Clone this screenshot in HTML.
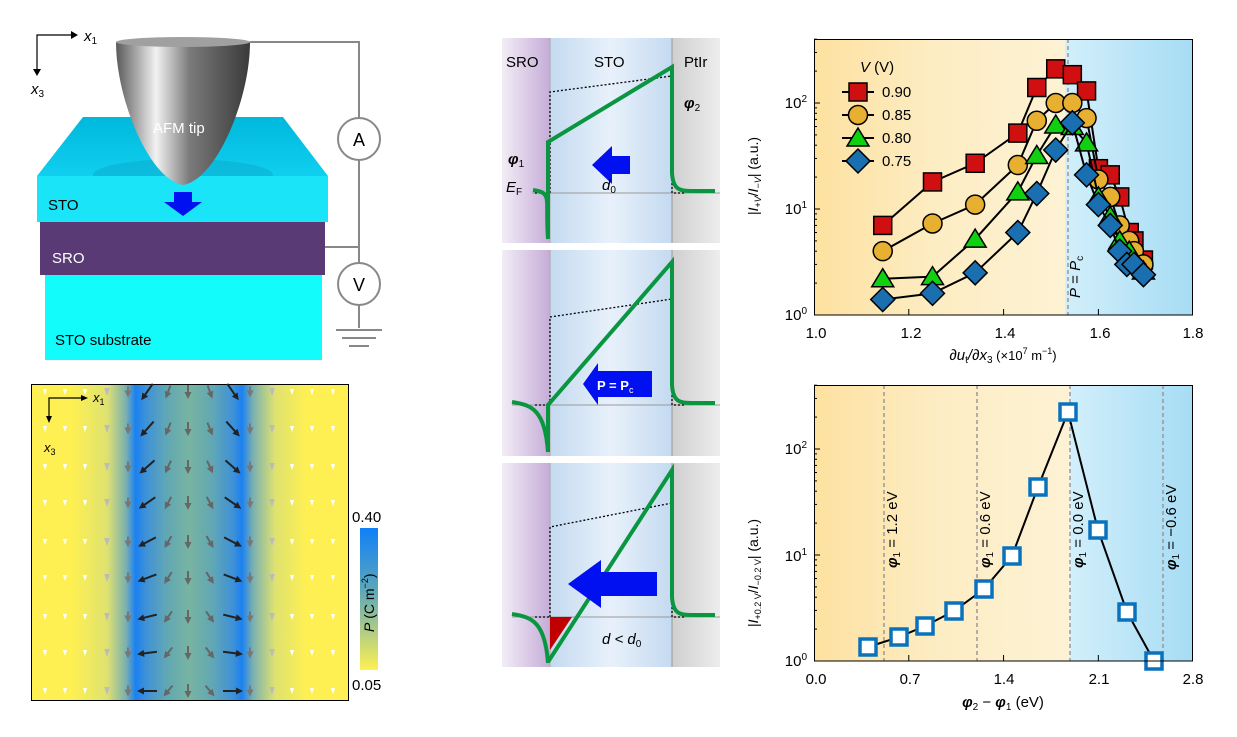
<!DOCTYPE html>
<html><head><meta charset="utf-8"><style>
body{margin:0;background:#fff;width:1237px;height:737px;overflow:hidden}
svg{display:block;font-family:"Liberation Sans",Arial,sans-serif}
</style></head><body>
<svg id="s" width="1237" height="737" viewBox="0 0 1237 737" xmlns="http://www.w3.org/2000/svg">
<defs>
<linearGradient id="tip" x1="0" x2="1"><stop offset="0" stop-color="#5a5a5a"/><stop offset="0.3" stop-color="#f2f2f2"/><stop offset="0.55" stop-color="#7a7a7a"/><stop offset="1" stop-color="#3a3a3a"/></linearGradient>
<linearGradient id="topf" x1="0" y1="0" x2="0" y2="1"><stop offset="0" stop-color="#00b8dc"/><stop offset="1" stop-color="#10cfef"/></linearGradient>
<linearGradient id="hm" x1="31" x2="348" gradientUnits="userSpaceOnUse">
<stop offset="0.13" stop-color="#fef052"/><stop offset="0.24" stop-color="#dfe270"/><stop offset="0.3" stop-color="#7ab0b0"/><stop offset="0.33" stop-color="#1a80f2"/><stop offset="0.36" stop-color="#3d90d8"/><stop offset="0.43" stop-color="#62a8b4"/><stop offset="0.5" stop-color="#78b4a0"/><stop offset="0.57" stop-color="#62a8b4"/><stop offset="0.64" stop-color="#3d90d8"/><stop offset="0.665" stop-color="#1a80f2"/><stop offset="0.70" stop-color="#7ab0b0"/><stop offset="0.77" stop-color="#dfe270"/><stop offset="0.87" stop-color="#fef052"/></linearGradient>
<linearGradient id="cb" x1="0" y1="0" x2="0" y2="1"><stop offset="0" stop-color="#1080f8"/><stop offset="0.45" stop-color="#60a8b8"/><stop offset="1" stop-color="#fef052"/></linearGradient>
<linearGradient id="sro" x1="0" x2="1"><stop offset="0" stop-color="#f2edf6"/><stop offset="1" stop-color="#c6acd8"/></linearGradient>
<linearGradient id="sto" x1="0" x2="1"><stop offset="0" stop-color="#c4daf0"/><stop offset="0.5" stop-color="#e8f1fb"/><stop offset="1" stop-color="#c4daf0"/></linearGradient>
<linearGradient id="pt" x1="0" x2="1"><stop offset="0" stop-color="#cfcfcf"/><stop offset="1" stop-color="#ededed"/></linearGradient>
<linearGradient id="org" x1="0" x2="1"><stop offset="0" stop-color="#fde1a0"/><stop offset="0.5" stop-color="#fdedc4"/><stop offset="1" stop-color="#fdf2d4"/></linearGradient>
<linearGradient id="blu" x1="0" x2="1"><stop offset="0" stop-color="#d2effb"/><stop offset="1" stop-color="#a6dcf4"/></linearGradient>
</defs>

<!-- 3D block -->
<polygon points="83,117 283,117 328,176 37,176" fill="url(#topf)"/>
<ellipse cx="183" cy="175" rx="90" ry="16" fill="#0aa8cc" opacity="0.5"/>
<rect x="37" y="176" width="291" height="46" fill="#1ae4f8"/>
<rect x="40" y="222" width="285" height="53" fill="#5a3a74"/>
<rect x="45" y="275" width="277" height="85" fill="#12fcfc"/>
<path d="M116,42 C116,100 150,180 183,185 C216,180 250,100 250,42 Z" fill="url(#tip)"/>
<ellipse cx="183" cy="42" rx="67" ry="5" fill="#a0a0a0"/>
<text x="153" y="133" fill="#fff" font-size="15">AFM tip</text>
<polygon points="174,192 192,192 192,202 202,202 183,216 164,202 174,202" fill="#0010f0"/>
<text x="48" y="210" font-size="15">STO</text>
<text x="52" y="263" font-size="15" fill="#fff">SRO</text>
<text x="55" y="345" font-size="15">STO substrate</text>
<g stroke="#888" stroke-width="2" fill="none">
<path d="M250,42 H359 V118 M359,160 V263 M325,247 H359 M359,305 V328"/>
<circle cx="359" cy="139" r="21" fill="#fff"/><circle cx="359" cy="284" r="21" fill="#fff"/>
<path d="M336,330 H382 M342,338 H376 M349,346 H369"/>
</g>
<text x="359" y="146" text-anchor="middle" font-size="18">A</text>
<text x="359" y="291" text-anchor="middle" font-size="18">V</text>
<g stroke="#000" stroke-width="1.2" fill="none"><path d="M37,72 V35 H75"/></g>
<polygon points="78,35 71,31 71,39" fill="#000"/><polygon points="37,76 33,69 41,69" fill="#000"/>
<text x="84" y="41" font-size="15" font-style="italic">x<tspan font-size="10" font-style="normal" dy="3">1</tspan></text>
<text x="31" y="94" font-size="15" font-style="italic">x<tspan font-size="10" font-style="normal" dy="3">3</tspan></text>

<!-- heatmap -->
<rect x="31.5" y="384.5" width="317" height="316" fill="url(#hm)" stroke="#000" stroke-width="1"/>
<g id="arr"></g>
<g stroke="#000" stroke-width="1.2" fill="none"><path d="M49,420 V398 H85"/></g>
<polygon points="88,398 81,395 81,401" fill="#000"/><polygon points="49,423 46,416 52,416" fill="#000"/>
<text x="93" y="402" font-size="13" font-style="italic">x<tspan font-size="9" font-style="normal" dy="3">1</tspan></text>
<text x="44" y="452" font-size="13" font-style="italic">x<tspan font-size="9" font-style="normal" dy="3">3</tspan></text>
<rect x="360" y="528" width="18" height="142" fill="url(#cb)"/>
<text x="352" y="522" font-size="15">0.40</text>
<text x="352" y="690" font-size="15">0.05</text>
<text transform="translate(374,632) rotate(-90)" font-size="14"><tspan font-style="italic">P</tspan> (C m<tspan font-size="9" dy="-6">−2</tspan><tspan dy="6">)</tspan></text>

<!-- band diagrams -->
<g id="bands"></g>
<g font-size="15">
<text x="506" y="67">SRO</text><text x="594" y="67">STO</text><text x="684" y="67">PtIr</text>
<text x="508" y="164" font-style="italic" font-weight="bold">φ<tspan font-size="10" font-weight="normal" font-style="normal" dy="3">1</tspan></text>
<text x="684" y="108" font-style="italic" font-weight="bold">φ<tspan font-size="10" font-weight="normal" font-style="normal" dy="3">2</tspan></text>
<text x="506" y="192" font-style="italic">E<tspan font-size="10" font-style="normal" dy="3">F</tspan></text>
<text x="602" y="190" font-style="italic">d<tspan font-size="10" font-style="normal" dy="3">0</tspan></text>
<text x="602" y="644" font-style="italic">d &lt; d<tspan font-size="10" font-style="normal" dy="3">0</tspan></text>
</g>
<text x="597" y="390" font-size="13" font-weight="bold" fill="#fff">P = P<tspan font-size="9" font-weight="normal" dy="3">c</tspan></text>

<!-- plots -->
<rect x="814" y="39" width="251" height="276" fill="url(#org)"/>
<rect x="1065" y="39" width="128" height="276" fill="url(#blu)"/>
<rect x="814" y="385" width="256" height="276" fill="url(#org)"/>
<rect x="1070" y="385" width="123" height="276" fill="url(#blu)"/>
<g stroke="#999" stroke-width="1.5" stroke-dasharray="4,3">
<path d="M1068,39 V315 M884,385 V661 M977,385 V661 M1070,385 V661 M1163,385 V661"/></g>
<g id="plots"></g>
<rect x="814.5" y="39.5" width="378" height="275.5" fill="none" stroke="#000"/>
<rect x="814.5" y="385.5" width="378" height="275.5" fill="none" stroke="#000"/>
<g font-size="15" text-anchor="middle">
<text x="816" y="338">1.0</text><text x="911" y="338">1.2</text><text x="1005" y="338">1.4</text><text x="1100" y="338">1.6</text><text x="1193" y="338">1.8</text>
<text x="816" y="684">0.0</text><text x="910" y="684">0.7</text><text x="1004" y="684">1.4</text><text x="1099" y="684">2.1</text><text x="1193" y="684">2.8</text>
</g>
<g font-size="15" text-anchor="end">
<text x="807" y="320">10<tspan font-size="10" dy="-6">0</tspan></text>
<text x="807" y="214">10<tspan font-size="10" dy="-6">1</tspan></text>
<text x="807" y="108">10<tspan font-size="10" dy="-6">2</tspan></text>
<text x="807" y="666">10<tspan font-size="10" dy="-6">0</tspan></text>
<text x="807" y="561">10<tspan font-size="10" dy="-6">1</tspan></text>
<text x="807" y="454">10<tspan font-size="10" dy="-6">2</tspan></text>
</g>
<text x="1003" y="360" font-size="15" text-anchor="middle"><tspan font-style="italic">∂u</tspan><tspan font-size="10" dy="3">t</tspan><tspan font-style="italic" dy="-3">/∂x</tspan><tspan font-size="10" dy="3">3</tspan><tspan font-size="13" dy="-3"> (×10</tspan><tspan font-size="9" dy="-6">7</tspan><tspan font-size="13" dy="6"> m</tspan><tspan font-size="9" dy="-6">−1</tspan><tspan font-size="13" dy="6">)</tspan></text>
<text x="1003" y="707" font-size="15" text-anchor="middle"><tspan font-style="italic" font-weight="bold">φ</tspan><tspan font-size="10" dy="3">2</tspan><tspan dy="-3"> − </tspan><tspan font-style="italic" font-weight="bold">φ</tspan><tspan font-size="10" dy="3">1</tspan><tspan dy="-3"> (eV)</tspan></text>
<text transform="translate(758,176) rotate(-90)" font-size="14" text-anchor="middle">|<tspan font-style="italic">I</tspan><tspan font-size="9" dy="3">+<tspan font-style="italic">V</tspan></tspan><tspan dy="-3">/</tspan><tspan font-style="italic">I</tspan><tspan font-size="9" dy="3">−<tspan font-style="italic">V</tspan></tspan><tspan dy="-3">| (a.u.)</tspan></text>
<text transform="translate(758,573) rotate(-90)" font-size="14" text-anchor="middle">|<tspan font-style="italic">I</tspan><tspan font-size="9" dy="3">+0.2 V</tspan><tspan dy="-3">/</tspan><tspan font-style="italic">I</tspan><tspan font-size="9" dy="3">−0.2 V</tspan><tspan dy="-3">| (a.u.)</tspan></text>
<text transform="translate(1080,298) rotate(-90)" font-size="15"><tspan font-style="italic">P</tspan> = <tspan font-style="italic">P</tspan><tspan font-size="10" dy="3">c</tspan></text>
<g font-size="15">
<text transform="translate(897,568) rotate(-90)"><tspan font-style="italic" font-weight="bold">φ</tspan><tspan font-size="10" dy="3">1</tspan><tspan dy="-3"> = 1.2 eV</tspan></text>
<text transform="translate(990,568) rotate(-90)"><tspan font-style="italic" font-weight="bold">φ</tspan><tspan font-size="10" dy="3">1</tspan><tspan dy="-3"> = 0.6 eV</tspan></text>
<text transform="translate(1083,568) rotate(-90)"><tspan font-style="italic" font-weight="bold">φ</tspan><tspan font-size="10" dy="3">1</tspan><tspan dy="-3"> = 0.0 eV</tspan></text>
<text transform="translate(1176,570) rotate(-90)"><tspan font-style="italic" font-weight="bold">φ</tspan><tspan font-size="10" dy="3">1</tspan><tspan dy="-3"> = −0.6 eV</tspan></text>
</g>
<text x="860" y="72" font-size="15"><tspan font-style="italic">V</tspan> (V)</text>
<g font-size="15"><text x="882" y="97">0.90</text><text x="882" y="120">0.85</text><text x="882" y="143">0.80</text><text x="882" y="166">0.75</text></g>
</svg>
<script>
var NS="http://www.w3.org/2000/svg";
function el(p,t,a){var e=document.createElementNS(NS,t);for(var k in a)e.setAttribute(k,a[k]);p.appendChild(e);return e;}
// heatmap arrows
var ag=document.getElementById('arr');
var cols=[45,65,85,107,128,147,168,188,210,233,250,272,292,312,333],rows=[392,429,467,503,542,578,617,653,691];
rows.forEach(function(y,ri){cols.forEach(function(x,ci){
 var col,len,ang,t=ri/8;
 if(ci<=2||ci>=12){col='#fff';len=6;ang=90;}
 else if(ci==3||ci==11){col='#bbb';len=8;ang=90;}
 else if(ci==4||ci==10){col='#777';len=11;ang=90;}
 else if(ci==5||ci==9){col='#222';len=20;ang=(ci==5)?(125+55*t):(55-55*t);}
 else {col='#666';len=14;ang=ci==6?(110+20*t):(ci==7?90:(70-20*t));}
 var r=ang*Math.PI/180,dx=Math.cos(r)*len/2,dy=Math.sin(r)*len/2;
 if(len<=8){el(ag,'polygon',{points:(x+dx)+','+(y+dy)+' '+(x-dx-dy*0.7)+','+(y-dy+dx*0.7)+' '+(x-dx+dy*0.7)+','+(y-dy-dx*0.7),fill:col});}
 else{el(ag,'line',{x1:x-dx,y1:y-dy,x2:x+dx*0.6,y2:y+dy*0.6,stroke:col,'stroke-width':2});
 var ux=Math.cos(r),uy=Math.sin(r);var hx=x+dx,hy=y+dy;
 el(ag,'polygon',{points:hx+','+hy+' '+(hx-ux*7-uy*3.5)+','+(hy-uy*7+ux*3.5)+' '+(hx-ux*7+uy*3.5)+','+(hy-uy*7-ux*3.5),fill:col});}
});});
// bands
var bg=document.getElementById('bands');
var P=[[38,243,193,142,67,92,76],[250,456,405,405,262,317,299],[463,667,617,662,470,527,503]];
P.forEach(function(p,i){
 var t=p[0],b=p[1],ef=p[2];
 el(bg,'rect',{x:502,y:t,width:48,height:b-t,fill:'url(#sro)'});
 el(bg,'rect',{x:550,y:t,width:122,height:b-t,fill:'url(#sto)'});
 el(bg,'rect',{x:672,y:t,width:48,height:b-t,fill:'url(#pt)'});
 el(bg,'line',{x1:550,y1:t,x2:550,y2:b,stroke:'#aaa','stroke-width':1});
 el(bg,'line',{x1:672,y1:t,x2:672,y2:b,stroke:'#999','stroke-width':1});
 el(bg,'line',{x1:(i==0?532:512),y1:ef,x2:720,y2:ef,stroke:'#999','stroke-width':1});
 el(bg,'path',{d:'M550,'+ef+' V'+p[5]+' L672,'+p[6]+' M672,'+(ef-10)+' V'+ef+' H685 M535,'+ef+' H550',stroke:'#000','stroke-width':1.3,'stroke-dasharray':'2,2',fill:'none'});
 if(i==2)el(bg,'polygon',{points:'550,617 572,617 550,650',fill:'#c00000'});
 var lx=i==0?533:512;
 el(bg,'path',{d:'M'+lx+','+(ef-3)+' C'+(lx+20)+','+(ef)+' 545,'+(ef+5)+' 548,'+(b-4)+' V'+p[3]+' L672,'+p[4]+' V'+(ef-20)+' C673,'+(ef-3)+' 680,'+(ef-2)+' 692,'+(ef-2)+' H715',stroke:'#0a9640','stroke-width':4,fill:'none','stroke-linejoin':'miter'});
});
el(bg,'polygon',{points:'592,165 612,146 612,156 630,156 630,174 612,174 612,184',fill:'#0010f0'});
el(bg,'polygon',{points:'583,384 598,363 598,371 652,371 652,397 598,397 598,405',fill:'#0010f0'});
el(bg,'polygon',{points:'568,584 601,560 601,572 657,572 657,596 601,596 601,608',fill:'#0010f0'});
// plots
var pg=document.getElementById('plots');
function ticks(y0,x0){for(var d=0;d<3;d++)for(var k=1;k<10;k++){var y=y0-106*(d+Math.log10(k));if(y<(y0-276))continue;el(pg,'line',{x1:814,x2:814+(k==1?6:3),y1:y,y2:y,stroke:'#000'});}}
ticks(315);ticks(661);
[1.2,1.4,1.6].forEach(function(v){var x=814+(v-1)*474;el(pg,'line',{x1:x,x2:x,y1:315,y2:309,stroke:'#000'});});
[0.7,1.4,2.1].forEach(function(v){var x=814+v*135.4;el(pg,'line',{x1:x,x2:x,y1:661,y2:655,stroke:'#000'});});
function X(v){return 814+(v-1)*474}function Y(v){return 315-106*Math.log10(v)}
var S={
sq:[[1.145,7],[1.25,18],[1.34,27],[1.43,52],[1.47,140],[1.51,210],[1.545,185],[1.575,130],[1.60,24],[1.625,21],[1.645,13],[1.665,6],[1.675,5],[1.695,3.3]],
ci:[[1.145,4],[1.25,7.3],[1.34,11],[1.43,26],[1.47,68],[1.51,100],[1.545,100],[1.575,72],[1.60,19],[1.625,13],[1.645,7],[1.665,5],[1.675,4],[1.695,3]],
tr:[[1.145,2.2],[1.25,2.3],[1.34,5.2],[1.43,14.5],[1.47,32],[1.51,62],[1.545,60],[1.575,42],[1.60,13],[1.625,8.5],[1.645,5],[1.665,4],[1.695,2.6]],
di:[[1.145,1.4],[1.25,1.6],[1.34,2.5],[1.43,6],[1.47,14],[1.51,36],[1.545,65],[1.575,21],[1.60,11],[1.625,7],[1.645,4],[1.66,3],[1.675,3],[1.695,2.4]]};
function mark(t,x,y){var a={stroke:'#000','stroke-width':1.5};
 if(t=='sq'){a.x=x-9;a.y=y-9;a.width=18;a.height=18;a.fill='#d01010';el(pg,'rect',a);}
 else if(t=='ci'){a.cx=x;a.cy=y;a.r=9.5;a.fill='#e8b030';el(pg,'circle',a);}
 else if(t=='tr'){a.points=x+','+(y-10)+' '+(x+11)+','+(y+8)+' '+(x-11)+','+(y+8);a.fill='#10d010';el(pg,'polygon',a);}
 else {a.points=x+','+(y-12)+' '+(x+12)+','+y+' '+x+','+(y+12)+' '+(x-12)+','+y;a.fill='#1a6fb0';el(pg,'polygon',a);}}
['sq','ci','tr','di'].forEach(function(k,i){
 el(pg,'polyline',{points:S[k].map(function(p){return X(p[0])+','+Y(p[1])}).join(' '),fill:'none',stroke:'#000','stroke-width':2});
 S[k].forEach(function(p){mark(k,X(p[0]),Y(p[1]));});
 var ly=92+23*i;el(pg,'line',{x1:842,x2:874,y1:ly,y2:ly,stroke:'#000','stroke-width':2});mark(k,858,ly);
});
var B=[[868,647],[899,637],[925,626],[954,611],[984,589],[1012,556],[1038,487],[1068,412],[1098,530],[1127,612],[1154,661]];
el(pg,'polyline',{points:B.map(function(p){return p.join(',')}).join(' '),fill:'none',stroke:'#000','stroke-width':2});
B.forEach(function(p){el(pg,'rect',{x:p[0]-8,y:p[1]-8,width:16,height:16,fill:'#fff',stroke:'#0a72bc','stroke-width':3.5});});
</script>
</body></html>
